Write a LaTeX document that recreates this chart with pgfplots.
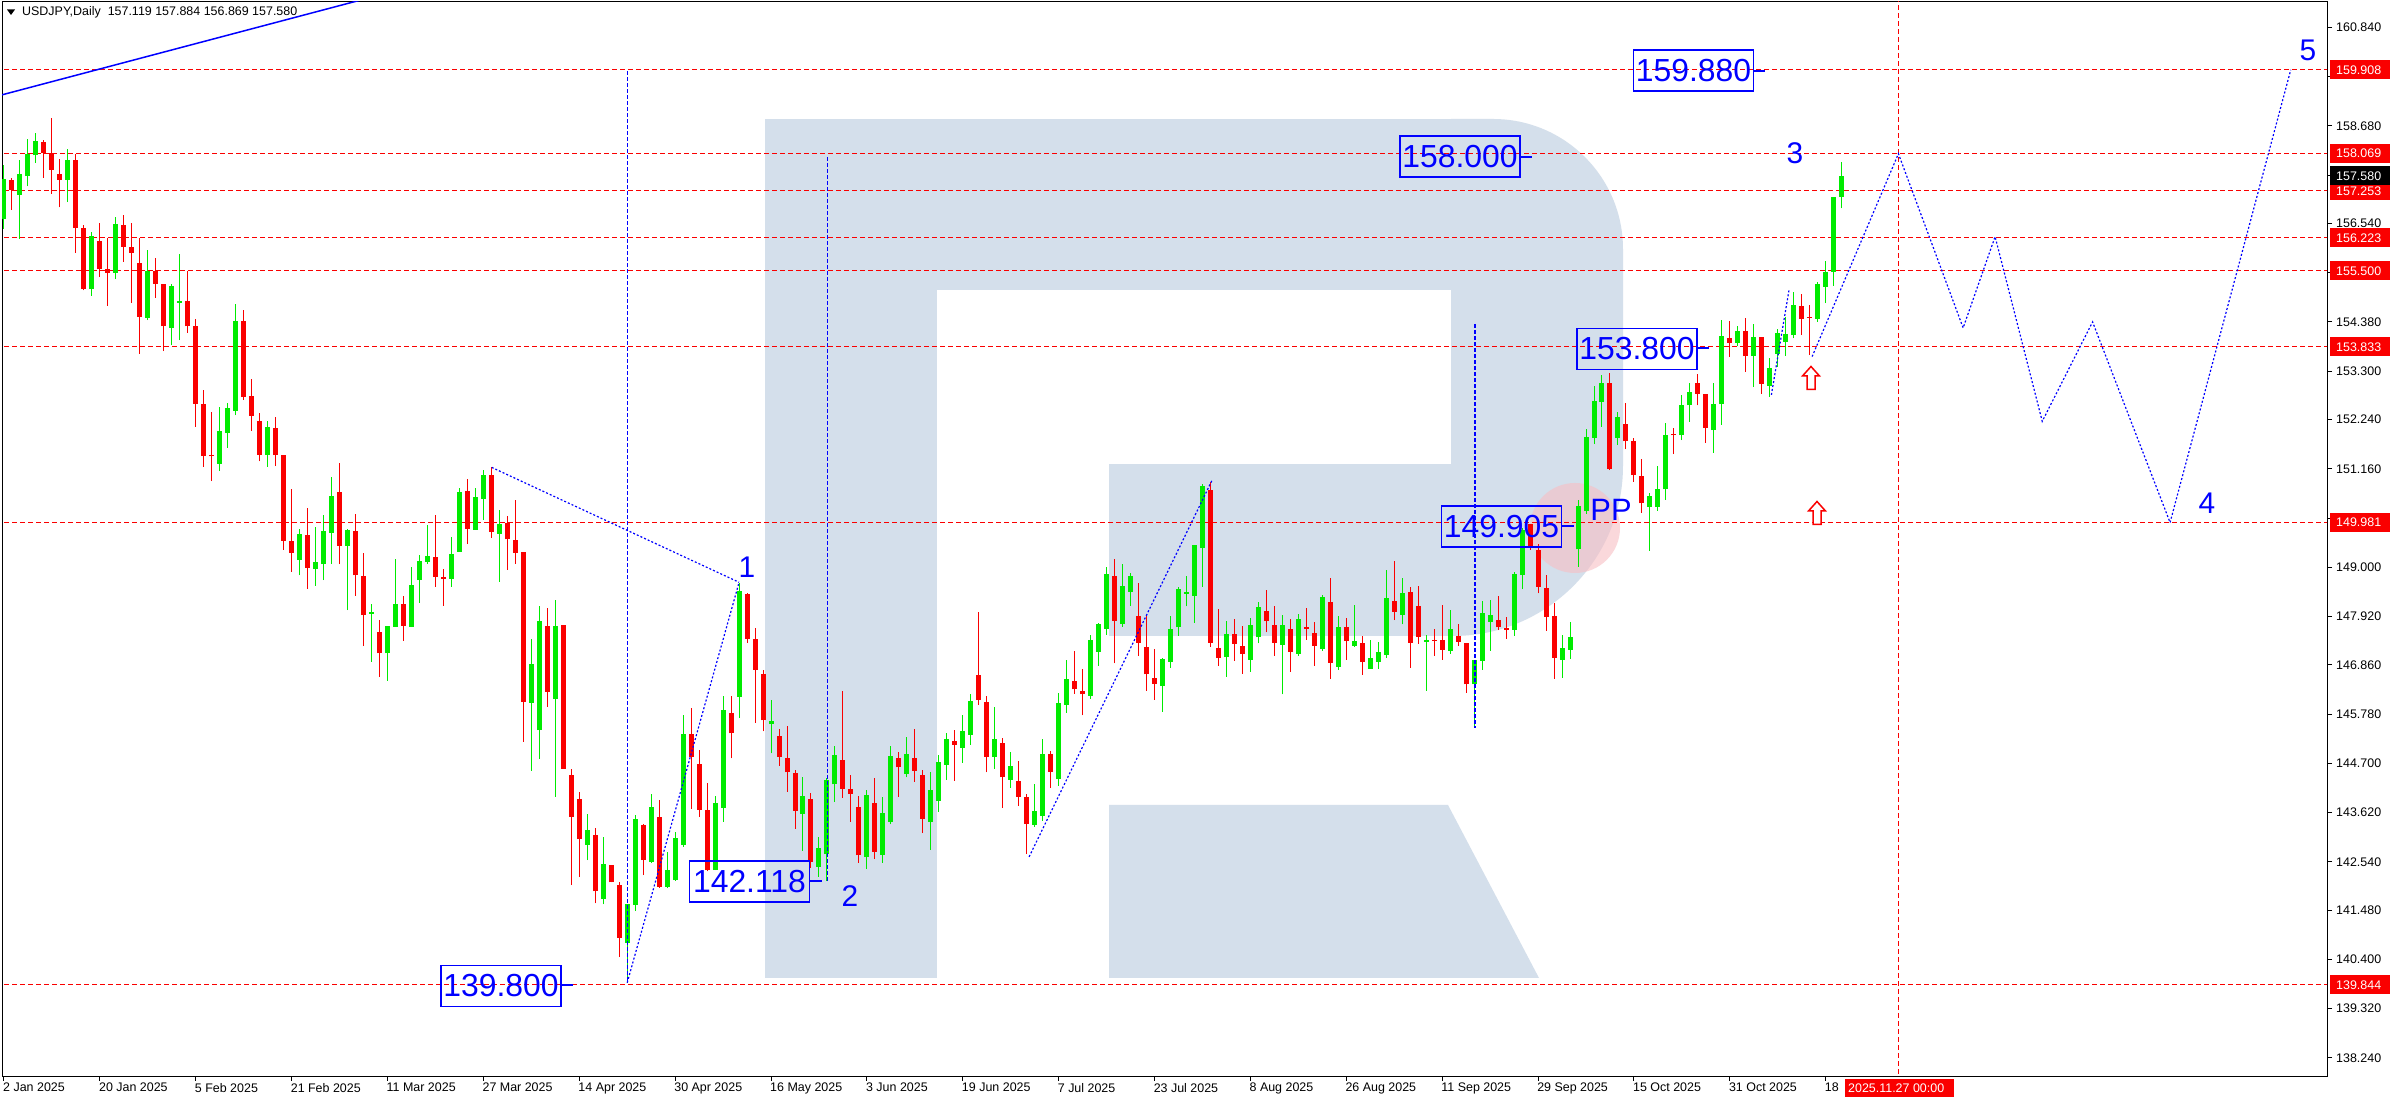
\documentclass[border=0pt]{standalone}
\usepackage{pgfplots}
\usepackage{pgfplotstable}
\pgfplotsset{compat=1.18}
\usepackage{fontspec}
\setmainfont{Liberation Sans}
\definecolor{cgreen}{RGB}{0,235,0}
\definecolor{cred}{RGB}{250,0,0}
\definecolor{wm}{RGB}{212,223,235}
\definecolor{wblue}{RGB}{0,0,255}
\definecolor{ppink}{RGB}{248,190,195}
\newcommand{\lab}{\fontsize{12.5}{14}\selectfont}

\pgfplotstableread{
x o h l c
0 156.64 157.82 156.42 157.52
2 157.16 157.93 156.20 157.62
3 157.58 158.40 157.35 158.06
4 158.03 158.52 157.87 158.35
8 157.50 158.17 157.01 157.93
11 155.10 156.35 154.95 156.27
14 155.46 156.68 155.32 156.53
18 154.47 155.96 154.42 155.50
21 154.25 155.22 153.87 155.17
22 154.80 155.88 153.98 154.85
27 151.27 152.52 151.11 151.99
28 151.94 152.60 151.62 152.49
29 152.43 154.77 152.33 154.40
33 151.47 152.21 151.20 152.08
37 149.16 149.85 148.82 149.73
39 148.96 149.89 148.60 149.11
40 149.07 150.15 148.72 149.80
41 149.76 150.99 149.07 150.56
43 149.47 149.85 148.06 149.82
46 147.98 148.19 146.93 148.02
48 147.11 147.71 146.51 147.71
49 147.70 149.18 147.70 148.19
51 147.70 149.00 147.70 148.61
52 148.72 149.27 148.22 149.14
53 149.12 149.93 149.07 149.25
56 148.75 149.66 148.57 149.29
57 149.34 150.74 149.34 150.65
59 149.82 150.74 149.82 150.54
60 150.50 151.13 150.04 151.02
62 149.74 150.26 148.68 149.95
66 146.03 147.43 144.54 146.88
67 145.43 148.16 144.80 147.82
69 146.11 148.28 143.97 147.71
73 142.91 143.59 142.58 143.24
75 141.73 143.09 141.61 142.49
78 140.77 141.61 139.88 141.61
79 141.60 143.57 141.46 143.47
81 142.54 144.03 142.51 143.75
83 141.99 142.76 141.96 142.36
84 142.14 143.19 142.13 143.07
85 142.92 145.75 142.87 145.34
89 142.36 143.98 142.36 143.82
90 143.73 146.18 143.42 145.88
92 146.16 148.65 145.69 148.47
96 145.56 146.09 144.92 145.63
100 143.60 144.39 142.78 143.98
102 142.43 143.09 142.21 142.84
103 142.71 144.37 142.12 144.34
104 144.24 145.08 143.85 144.88
108 142.65 144.12 142.38 144.01
110 142.70 143.96 142.52 143.61
111 143.42 145.08 143.36 144.86
113 144.47 145.28 144.39 144.90
116 143.42 144.50 142.80 144.12
117 143.88 144.88 143.64 144.73
118 144.67 145.37 144.34 145.23
120 145.04 145.76 144.71 145.41
121 145.33 146.22 145.11 146.07
124 144.85 145.94 144.58 145.23
126 144.34 144.95 144.17 144.64
129 143.35 144.25 143.31 143.65
130 143.55 145.23 143.44 144.90
132 144.36 146.24 144.21 146.02
133 145.99 146.97 145.81 146.55
136 146.18 147.51 146.12 147.40
137 147.15 147.78 146.84 147.76
138 147.65 149.01 147.52 148.85
140 147.76 149.07 147.70 148.59
141 148.46 148.87 148.16 148.81
145 146.40 147.02 145.83 146.99
146 146.93 147.93 146.80 147.65
147 147.68 148.57 147.50 148.52
148 148.42 148.81 148.14 148.46
149 148.37 149.49 147.78 149.49
150 149.42 150.83 148.57 150.78
153 147.04 147.82 146.60 147.54
156 146.97 147.89 146.71 147.73
157 147.46 148.24 147.33 148.13
160 147.30 147.95 146.21 147.73
162 147.10 147.97 147.06 147.86
165 147.21 148.39 147.17 148.35
167 146.82 147.93 146.75 147.69
169 147.28 148.17 147.26 147.38
171 146.78 147.41 146.78 147.02
172 146.93 147.37 146.78 147.15
173 147.08 148.94 147.02 148.33
175 147.96 148.76 147.75 148.44
178 147.37 147.51 146.29 147.40
181 147.17 148.06 147.10 147.65
184 146.43 146.97 145.48 146.97
185 146.95 148.26 146.75 148.00
186 147.80 148.28 147.17 147.95
189 147.63 148.90 147.50 148.85
190 148.83 149.86 148.52 149.82
195 146.97 147.52 146.58 147.24
196 147.19 147.80 146.99 147.46
197 149.39 150.47 149.01 150.34
198 150.23 152.03 150.17 151.86
199 151.84 152.98 151.70 152.65
200 152.63 153.22 152.08 153.04
202 151.83 152.41 151.68 152.29
206 150.33 150.62 149.36 150.56
207 150.33 151.21 150.24 150.71
208 150.71 152.17 150.48 151.90
210 151.89 152.78 151.79 152.56
211 152.55 153.03 152.19 152.84
214 152.01 153.03 151.51 152.58
215 152.57 154.42 152.12 154.07
217 153.92 154.28 153.85 154.18
219 153.63 154.33 152.95 154.04
221 152.98 153.60 152.74 153.38
222 153.68 154.22 153.40 154.13
223 153.95 154.48 153.63 154.12
224 154.09 155.04 154.02 154.75
227 154.45 155.26 154.38 155.21
228 155.15 155.72 154.79 155.48
229 155.48 157.11 155.17 157.11
230 157.12 157.88 156.87 157.58
}\bull

\pgfplotstableread{
x o h l c
1 157.49 157.54 156.84 157.27
5 158.33 158.37 157.54 158.08
6 158.08 158.85 157.19 157.72
7 157.62 157.95 156.89 157.50
9 157.93 158.06 155.90 156.45
10 156.43 156.50 155.07 155.10
12 156.15 156.56 155.37 155.54
13 155.53 156.21 154.74 155.46
15 156.51 156.72 155.70 156.03
16 156.02 156.55 154.80 155.90
17 155.68 156.21 153.68 154.49
19 155.50 155.78 154.91 155.22
20 155.22 155.22 153.74 154.28
23 154.85 155.50 154.14 154.28
24 154.29 154.45 152.08 152.59
25 152.58 152.89 151.20 151.44
26 151.45 152.41 150.89 151.43
30 154.40 154.64 152.67 152.73
31 152.76 153.12 151.99 152.32
32 152.21 152.38 151.32 151.47
34 152.05 152.30 151.22 151.46
35 151.46 151.46 149.38 149.58
36 149.58 150.72 148.90 149.32
38 149.71 150.29 148.53 148.99
42 150.65 151.28 149.07 149.47
44 149.80 150.17 148.37 148.82
45 148.81 149.31 147.27 147.95
47 147.58 147.84 146.60 147.11
50 148.19 148.37 147.39 147.72
54 149.23 150.15 148.57 148.79
55 148.79 148.96 148.16 148.75
58 150.67 150.93 149.51 149.85
61 151.02 151.20 149.65 149.78
63 149.96 150.12 148.95 149.61
64 149.60 150.47 149.08 149.32
65 149.33 149.33 145.17 146.05
68 147.71 148.11 145.94 146.27
70 147.73 147.73 144.58 144.58
71 144.45 144.58 142.03 143.53
72 143.92 144.07 142.21 143.04
74 143.13 143.29 141.63 141.89
76 142.47 142.47 142.09 142.09
77 142.03 142.09 140.46 140.88
80 143.35 143.38 142.25 142.58
82 143.53 143.90 141.97 141.99
86 145.34 145.91 143.71 144.85
87 144.69 144.99 143.53 143.68
88 143.68 144.26 142.33 142.36
91 145.80 146.18 144.81 145.36
93 148.41 148.43 147.35 147.43
94 147.43 147.66 145.59 146.75
95 146.67 146.75 145.40 145.64
97 145.30 145.45 144.65 144.85
98 144.81 145.52 144.08 144.50
99 144.48 144.55 143.27 143.66
101 143.91 144.06 142.41 142.54
105 144.77 146.29 143.95 144.14
106 144.14 144.44 143.42 144.03
107 143.74 143.98 142.52 142.68
109 143.83 144.37 142.60 142.76
112 144.82 144.95 143.97 144.61
114 144.82 145.45 144.30 144.54
115 144.44 144.55 143.17 143.49
119 145.19 145.43 144.32 145.11
122 146.64 148.02 145.99 146.10
123 146.05 146.18 144.50 144.85
125 145.15 145.26 143.73 144.39
127 144.32 144.75 143.77 143.97
128 143.96 144.03 142.71 143.38
131 144.90 144.97 144.17 144.52
134 146.51 147.16 146.23 146.32
135 146.29 146.77 145.75 146.21
139 148.81 149.18 146.89 147.83
142 147.93 148.65 147.06 147.35
143 147.25 147.93 146.29 146.65
144 146.57 147.21 146.10 146.45
151 150.69 150.88 147.26 147.35
152 147.23 148.08 146.84 147.02
154 147.54 147.86 146.95 147.32
155 147.27 147.71 146.67 147.10
158 148.04 148.50 147.57 147.83
159 147.73 148.15 147.06 147.35
161 147.65 147.86 146.71 147.15
163 147.68 148.11 147.41 147.65
164 147.56 147.80 146.84 147.28
166 148.24 148.76 146.56 146.91
168 147.69 147.89 146.97 147.39
170 147.33 147.50 146.64 146.93
174 148.26 149.14 147.84 148.02
176 148.46 148.57 146.80 147.35
177 148.15 148.59 147.32 147.48
179 147.41 147.65 147.06 147.39
180 147.40 148.17 146.97 147.19
182 147.49 147.75 147.28 147.37
183 147.34 147.34 146.25 146.43
187 147.84 148.37 147.62 147.68
188 147.67 147.91 147.43 147.63
191 149.95 149.95 149.38 149.45
192 149.38 149.51 148.43 148.57
193 148.55 148.83 147.61 147.92
194 147.93 148.22 146.56 147.02
201 153.03 153.25 151.13 151.15
203 152.14 152.60 151.59 151.76
204 151.76 151.84 150.88 151.02
205 151.00 151.37 150.20 150.40
209 151.91 152.05 151.48 151.89
212 153.03 153.24 152.55 152.81
213 152.81 152.81 151.73 152.06
216 154.02 154.41 153.62 153.92
218 154.18 154.46 153.29 153.63
220 154.04 154.04 152.80 153.02
225 154.73 154.99 154.09 154.44
226 154.49 154.75 153.65 154.47
}\bear

\tikzset{
  rdash/.style={draw=cred, line width=1bp, dash pattern=on 5bp off 3bp},
  wdot/.style={draw=wblue, line width=1.2bp, dash pattern=on 2bp off 2bp},
  vdot/.style={draw=wblue, line width=1.2bp, dash pattern=on 4bp off 2bp},
  vbox/.style={draw=wblue, line width=1.5bp, text=wblue, font=\fontsize{32}{34}\selectfont, minimum width=120bp, minimum height=41bp, inner sep=0pt},
  wnum/.style={text=wblue, font=\fontsize{30}{32}\selectfont, inner sep=0pt},
  rlab/.style={anchor=west, inner sep=0pt, text=white, font=\lab},
}

\begin{document}
\begin{tikzpicture}
\useasboundingbox (0,0) rectangle (2390bp,1100bp);
\fill[white] (0,0) rectangle (2390bp,1100bp);
\begin{scope}[x=1bp,y=-1bp,yshift=1100bp]
  \fill[wm] (765,119) rectangle (937,978);
  \fill[wm] (765,119) rectangle (1452,290);
  \fill[wm] (1451,119) -- (1493,119) .. controls (1564.8,119) and (1623,177.2) .. (1623,249)
        -- (1623,466) .. controls (1623,559.8) and (1546.8,636) .. (1453,636) -- (1451,636) -- cycle;
  \fill[wm] (1109,464) rectangle (1452,636);
  \fill[wm] (1109,805) -- (1448,805) -- (1539,978) -- (1109,978) -- cycle;
  \fill[ppink, opacity=0.6] (1575,528) circle[radius=45];
\end{scope}

\begin{axis}[
  at={(2bp,24bp)}, anchor=south west,
  scale only axis, width=2325bp, height=1074bp,
  xmin=-0.25, xmax=290.74, ymin=137.844, ymax=161.396,
  axis line style={black, line width=1bp},
  tick align=outside, major tick length=5bp,
  tick style={black, line width=1bp},
  xtick pos=left, ytick pos=right,
  xtick={0,12,24,36,48,60,72,84,96,108,120,132,144,156,168,180,192,204,216,228},
  xticklabels={2 Jan 2025,20 Jan 2025,5 Feb 2025,21 Feb 2025,11 Mar 2025,27 Mar 2025,14 Apr 2025,30 Apr 2025,16 May 2025,3 Jun 2025,19 Jun 2025,7 Jul 2025,23 Jul 2025,8 Aug 2025,26 Aug 2025,11 Sep 2025,29 Sep 2025,15 Oct 2025,31 Oct 2025,18},
  ytick={138.24,139.32,140.40,141.48,142.54,143.62,144.70,145.78,146.86,147.92,149.00,150.08,151.16,152.24,153.30,154.38,155.46,156.54,157.60,158.68,159.76,160.84},
  yticklabels={138.240,139.320,140.400,141.480,142.540,143.620,144.700,145.780,146.860,147.920,149.000,{},151.160,152.240,153.300,154.380,{},156.540,{},158.680,{},160.840},
  xticklabel style={anchor=north west, inner sep=0pt, xshift=-1bp, yshift=-2bp},
  yticklabel style={anchor=west, inner sep=0pt, xshift=4bp},
  tick label style={font=\lab},
]
% red horizontal levels
\draw[rdash] (axis cs:-1,159.908) -- (axis cs:300,159.908);
\draw[rdash] (axis cs:-1,158.069) -- (axis cs:300,158.069);
\draw[rdash] (axis cs:-1,157.253) -- (axis cs:300,157.253);
\draw[rdash] (axis cs:-1,156.223) -- (axis cs:300,156.223);
\draw[rdash] (axis cs:-1,155.500) -- (axis cs:300,155.500);
\draw[rdash] (axis cs:-1,153.833) -- (axis cs:300,153.833);
\draw[rdash] (axis cs:-1,149.981) -- (axis cs:300,149.981);
\draw[rdash] (axis cs:-1,139.844) -- (axis cs:300,139.844);
\draw[rdash] (axis cs:237.17,130) -- (axis cs:237.17,170);

% candles
\addplot[draw=none, mark=none, forget plot, error bars/.cd, y dir=plus, y explicit, error mark=none,
  error bar style={draw=cgreen, line width=1bp}]
  table[x=x, y=l, y error plus expr=\thisrow{h}-\thisrow{l}] {\bull};
\addplot[draw=none, mark=none, forget plot, error bars/.cd, y dir=plus, y explicit, error mark=none,
  error bar style={draw=cgreen, line width=5bp}]
  table[x=x, y=o, y error plus expr={max(\thisrow{c}-\thisrow{o},0.022)}] {\bull};
\addplot[draw=none, mark=none, forget plot, error bars/.cd, y dir=plus, y explicit, error mark=none,
  error bar style={draw=cred, line width=1bp}]
  table[x=x, y=l, y error plus expr=\thisrow{h}-\thisrow{l}] {\bear};
\addplot[draw=none, mark=none, forget plot, error bars/.cd, y dir=plus, y explicit, error mark=none,
  error bar style={draw=cred, line width=5bp}]
  table[x=x, y=c, y error plus expr={max(\thisrow{o}-\thisrow{c},0.022)}] {\bear};

% wave lines
\addplot[wblue, line width=1.5bp, mark=none, forget plot] coordinates {(-0.25,159.36) (60,162.15)};
\addplot[wdot, mark=none, forget plot] coordinates {(61.04,151.19) (92.0,148.67)};
\addplot[wdot, mark=none, forget plot] coordinates {(78.0,139.89) (92.0,148.67)};
\addplot[wdot, mark=none, forget plot] coordinates {(128.3,142.65) (151.2,150.91)};
\addplot[wdot, mark=none, forget plot] coordinates {(221.2,152.78) (223.4,155.07)};
\addplot[wdot, mark=none, forget plot] coordinates {(226.3,153.62) (237.1,158.069) (245.2,154.25) (249.2,156.25) (255.1,152.2) (261.4,154.38) (271.1,149.981) (286.2,159.908)};
\addplot[vdot, mark=none, forget plot] coordinates {(78.0,159.88) (78.0,139.89)};
\addplot[vdot, mark=none, forget plot] coordinates {(103.1,158.0) (103.1,142.12)};
\addplot[vdot, mark=none, forget plot] coordinates {(184.1,154.34) (184.1,145.48)};
\end{axis}

\begin{scope}[x=1bp,y=-1bp,yshift=1100bp]
  % right price labels
  \foreach \yy/\lbl in {69.9/159.908,153.7/158.069,190.9/157.253,237.9/156.223,270.9/155.500,346.9/153.833,522.5/149.981,984.8/139.844}{
    \fill[cred] (2330,\yy-9.5) rectangle (2390,\yy+9.5);
    \node[rlab] at (2336,\yy) {\lbl};
  }
  \fill[black] (2330,166.5) rectangle (2390,185.5);
  \node[rlab] at (2336,176) {157.580};
  % date box
  \fill[cred] (1845,1079) rectangle (1954,1097);
  \node[rlab] at (1848,1088) {2025.11.27 00:00};
  % header
  \fill[black] (7,9.5) -- (15,9.5) -- (11,15) -- cycle;
  \node[anchor=west, inner sep=0pt, font=\lab] at (22,12) {USDJPY,Daily\ \ 157.119 157.884 156.869 157.580};
  % boxes
  \node[vbox] at (1693.5,70.5) {159.880};
  \draw[wblue, line width=1.5bp] (1753,71) -- (1765,71);
  \node[vbox] at (1460,156.5) {158.000};
  \draw[wblue, line width=1.5bp] (1520,157) -- (1532,157);
  \node[vbox] at (1637,349) {153.800};
  \draw[wblue, line width=1.5bp] (1697,348) -- (1709,348);
  \node[vbox] at (1501.5,526.5) {149.905};
  \draw[wblue, line width=1.5bp] (1562,526) -- (1574,526);
  \node[vbox] at (749.5,881.5) {142.118};
  \draw[wblue, line width=1.5bp] (810,881) -- (822,881);
  \node[vbox] at (501,986) {139.800};
  \draw[wblue, line width=1.5bp] (561,985) -- (573,985);
  % wave numbers
  \node[wnum] at (747,567) {1};
  \node[wnum] at (850,896) {2};
  \node[wnum] at (1795,153) {3};
  \node[wnum] at (2207,503) {4};
  \node[wnum] at (2308,50) {5};
  \node[wnum, font=\fontsize{31}{33}\selectfont] at (1611,510) {PP};
  % red arrows
  \foreach \ax/\ay in {1811/378,1817/513}{
    \begin{scope}[shift={(\ax,\ay)}]
      \filldraw[fill=white, draw=cred, line width=1.5bp] (0,-11.5) -- (8.5,-2) -- (4,-2) -- (4,11.5) -- (-4,11.5) -- (-4,-2) -- (-8.5,-2) -- cycle;
    \end{scope}
  }
\end{scope}
\end{tikzpicture}
\end{document}
